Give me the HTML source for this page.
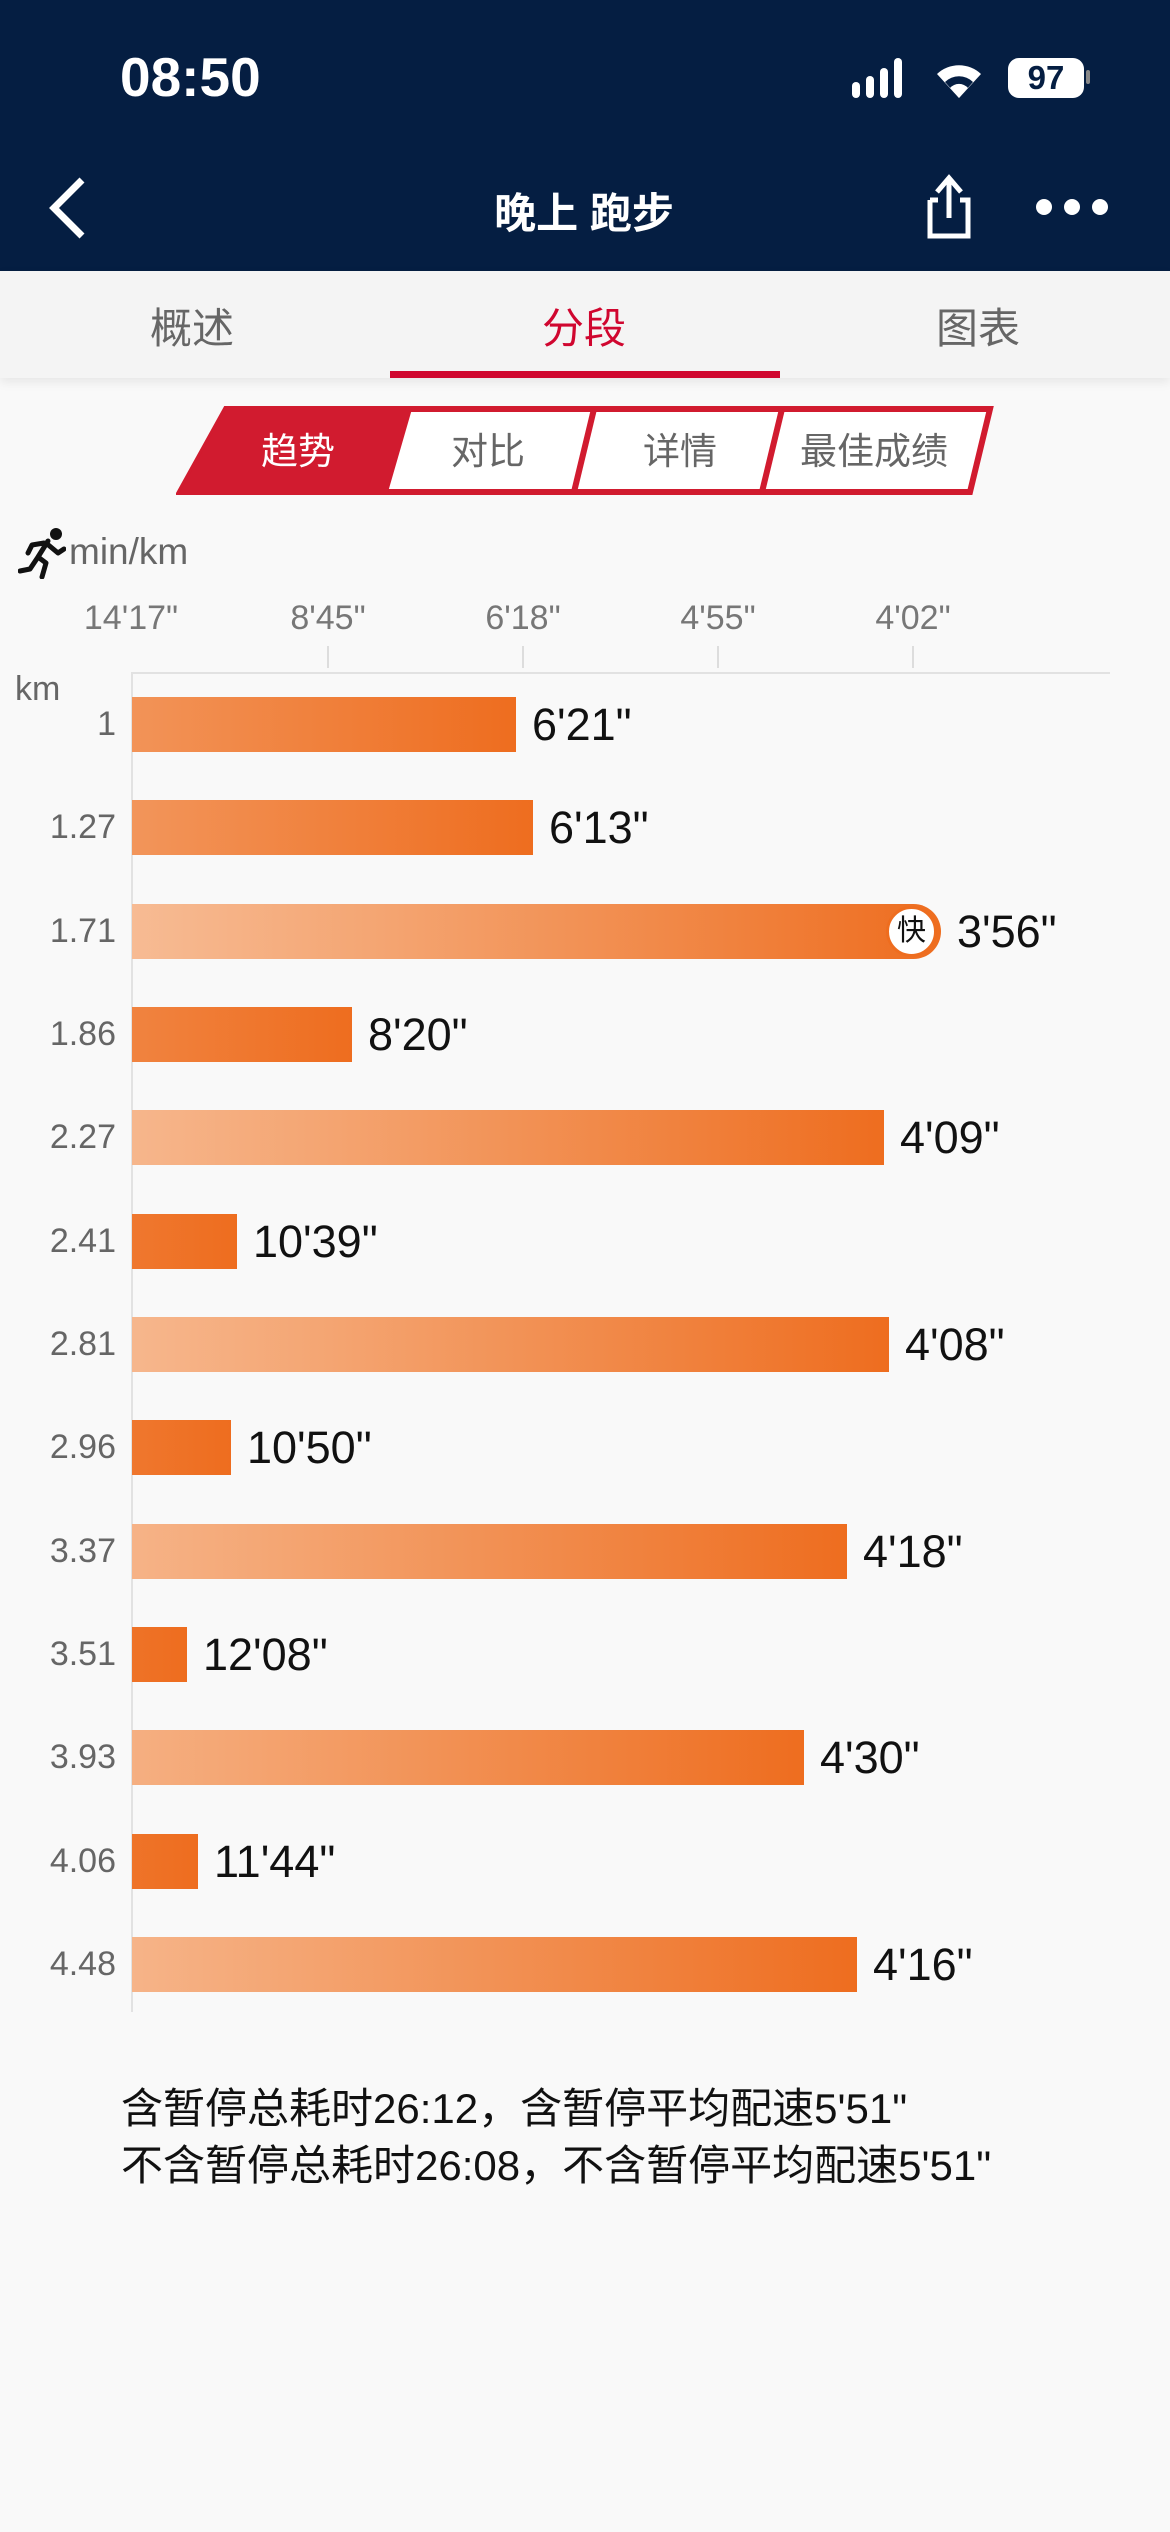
<!DOCTYPE html>
<html><head><meta charset="utf-8"><style>
*{margin:0;padding:0;box-sizing:border-box}
body{width:1170px;height:2532px;background:#f9f9f9;font-family:"Liberation Sans","Noto Sans CJK SC",sans-serif;position:relative;overflow:hidden}
.abs{position:absolute}
.nav{left:0;top:0;width:1170px;height:271px;background:#051e42}
.tabs{left:0;top:271px;width:1170px;height:107px;background:#f4f4f4;box-shadow:0 4px 10px rgba(0,0,0,0.08)}
.tab{position:absolute;top:24px;font-size:42px;color:#666;width:200px;text-align:center}
.bar{position:absolute;left:132px;height:55px;background:linear-gradient(to left,#ee6d1f 0,#f4a572 560px,#f7bc95 820px);background-size:820px 100%;background-position:right center;background-repeat:no-repeat}
.val{position:absolute;font-size:45px;color:#111;line-height:55px}
.rl{position:absolute;right:1054px;font-size:34px;color:#666;line-height:55px;text-align:right}
.tk{position:absolute;top:599px;font-size:34px;color:#777;width:160px;text-align:center}
.tl{position:absolute;top:646px;width:2px;height:22px;background:#ddd}
</style></head><body>
<div class="abs nav"></div>
<div class="abs" style="left:120px;top:45px;font-size:55px;font-weight:bold;color:#fff">08:50</div>
<svg class="abs" style="left:850px;top:56px" width="70" height="44">
<rect x="2" y="26" width="8" height="16" rx="4" fill="#fff"/>
<rect x="16" y="20" width="8" height="22" rx="4" fill="#fff"/>
<rect x="30" y="12" width="8" height="30" rx="4" fill="#fff"/>
<rect x="44" y="2" width="8" height="40" rx="4" fill="#fff"/>
<rect x="2" y="2" width="36" height="8" fill="#051e42"/>
</svg>
<svg class="abs" style="left:933px;top:58px" width="52" height="42"><path d="M26 40 L4 16 A32 32 0 0 1 48 16 Z" fill="#fff"/><path d="M26 40 L12 24 A20 20 0 0 1 40 24 Z" fill="#051e42"/><path d="M26 40 L17 30 A12 12 0 0 1 35 30 Z" fill="#fff"/></svg>
<div class="abs" style="left:1008px;top:58px;width:76px;height:40px;background:#fff;border-radius:11px;font-size:33px;font-weight:bold;color:#051e42;text-align:center;line-height:40px">97</div>
<div class="abs" style="left:1086px;top:70px;width:4px;height:14px;background:#888;border-radius:2px"></div>
<svg class="abs" style="left:44px;top:176px" width="50" height="64"><polyline points="38,4 10,32 38,60" fill="none" stroke="#fff" stroke-width="7"/></svg>
<div class="abs" style="left:384px;top:180px;width:400px;text-align:center;font-size:42px;font-weight:bold;color:#fff">晚上 跑步</div>
<svg class="abs" style="left:920px;top:172px" width="60" height="70"><path d="M10 28 V64 H48 V28 H40 M18 28 H10" fill="none" stroke="#fff" stroke-width="5"/><line x1="29" y1="8" x2="29" y2="46" stroke="#fff" stroke-width="5"/><polyline points="17,20 29,6 41,20" fill="none" stroke="#fff" stroke-width="5"/></svg>
<div class="abs" style="left:1036px;top:199px;width:16px;height:16px;border-radius:50%;background:#fff"></div>
<div class="abs" style="left:1064px;top:199px;width:16px;height:16px;border-radius:50%;background:#fff"></div>
<div class="abs" style="left:1092px;top:199px;width:16px;height:16px;border-radius:50%;background:#fff"></div>
<div class="abs tabs">
<div class="tab" style="left:92px">概述</div>
<div class="tab" style="left:484px;color:#d0062f">分段</div>
<div class="tab" style="left:878px">图表</div>
<div style="position:absolute;left:390px;top:100px;width:390px;height:7px;background:#d0062f"></div>
</div>
<svg class="abs" style="left:176px;top:406px" width="820" height="90">
<polygon points="50,3 814,3 794,86 4,86" fill="#fff" stroke="#d11b2f" stroke-width="6"/>
<polygon points="50,3 236,3 212,86 4,86" fill="#d11b2f"/>
<line x1="418" y1="3" x2="398" y2="86" stroke="#d11b2f" stroke-width="6"/>
<line x1="606" y1="3" x2="586" y2="86" stroke="#d11b2f" stroke-width="6"/>
<text x="122" y="58" font-size="37" fill="#fff" text-anchor="middle" font-family="Liberation Sans,Noto Sans CJK SC,sans-serif">趋势</text>
<text x="312" y="58" font-size="37" fill="#666" text-anchor="middle" font-family="Liberation Sans,Noto Sans CJK SC,sans-serif">对比</text>
<text x="504" y="58" font-size="37" fill="#666" text-anchor="middle" font-family="Liberation Sans,Noto Sans CJK SC,sans-serif">详情</text>
<text x="698" y="58" font-size="37" fill="#666" text-anchor="middle" font-family="Liberation Sans,Noto Sans CJK SC,sans-serif">最佳成绩</text>
</svg>
<svg class="abs" style="left:18px;top:527px" width="48" height="52"><circle cx="38" cy="7" r="6" fill="#111"/><path d="M30 14 L20 30 L28 36 L24 50 M20 30 L12 42 L2 44 M28 16 L40 26 L46 22 M26 16 L14 18 L10 26" fill="none" stroke="#111" stroke-width="5" stroke-linecap="round" stroke-linejoin="round"/></svg>
<div class="abs" style="left:69px;top:531px;font-size:37px;color:#666">min/km</div>
<div class="tk" style="left:51px">14'17"</div>
<div class="tk" style="left:248px">8'45"</div>
<div class="tk" style="left:443px">6'18"</div>
<div class="tk" style="left:638px">4'55"</div>
<div class="tk" style="left:833px">4'02"</div>
<div class="tl" style="left:327px"></div><div class="tl" style="left:522px"></div><div class="tl" style="left:717px"></div><div class="tl" style="left:912px"></div>
<div class="abs" style="left:131px;top:672px;width:979px;height:2px;background:#e2e2e2"></div>
<div class="abs" style="left:131px;top:672px;width:2px;height:1340px;background:#e2e2e2"></div>
<div class="abs" style="left:15px;top:670px;font-size:34px;color:#666">km</div>

<div class="rl" style="top:697px">1</div><div class="bar" style="top:697px;width:384px"></div><div class="val" style="top:697px;left:532px">6'21"</div>
<div class="rl" style="top:800px">1.27</div><div class="bar" style="top:800px;width:401px"></div><div class="val" style="top:800px;left:549px">6'13"</div>
<div class="rl" style="top:904px">1.71</div><div class="bar" style="top:904px;width:809px;border-radius:0 28px 28px 0"></div>
<div class="abs" style="left:886px;top:906px;width:51px;height:51px;border-radius:50%;background:#fff;border:3px solid #ee6d1f;font-size:29px;text-align:center;line-height:45px;color:#111">快</div>
<div class="val" style="top:904px;left:957px">3'56"</div>
<div class="rl" style="top:1007px">1.86</div><div class="bar" style="top:1007px;width:220px"></div><div class="val" style="top:1007px;left:368px">8'20"</div>
<div class="rl" style="top:1110px">2.27</div><div class="bar" style="top:1110px;width:752px"></div><div class="val" style="top:1110px;left:900px">4'09"</div>
<div class="rl" style="top:1214px">2.41</div><div class="bar" style="top:1214px;width:105px"></div><div class="val" style="top:1214px;left:253px">10'39"</div>
<div class="rl" style="top:1317px">2.81</div><div class="bar" style="top:1317px;width:757px"></div><div class="val" style="top:1317px;left:905px">4'08"</div>
<div class="rl" style="top:1420px">2.96</div><div class="bar" style="top:1420px;width:99px"></div><div class="val" style="top:1420px;left:247px">10'50"</div>
<div class="rl" style="top:1524px">3.37</div><div class="bar" style="top:1524px;width:715px"></div><div class="val" style="top:1524px;left:863px">4'18"</div>
<div class="rl" style="top:1627px">3.51</div><div class="bar" style="top:1627px;width:55px"></div><div class="val" style="top:1627px;left:203px">12'08"</div>
<div class="rl" style="top:1730px">3.93</div><div class="bar" style="top:1730px;width:672px"></div><div class="val" style="top:1730px;left:820px">4'30"</div>
<div class="rl" style="top:1834px">4.06</div><div class="bar" style="top:1834px;width:66px"></div><div class="val" style="top:1834px;left:214px">11'44"</div>
<div class="rl" style="top:1937px">4.48</div><div class="bar" style="top:1937px;width:725px"></div><div class="val" style="top:1937px;left:873px">4'16"</div>

<div class="abs" style="left:121px;top:2080px;font-size:42px;color:#111;line-height:57px;white-space:nowrap">含暂停总耗时26:12，含暂停平均配速5'51"<br>不含暂停总耗时26:08，不含暂停平均配速5'51"</div>
</body></html>
